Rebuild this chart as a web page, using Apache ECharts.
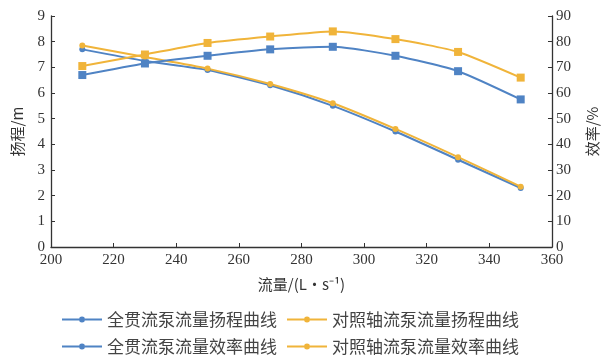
<!DOCTYPE html>
<html><head><meta charset="utf-8">
<script src="https://cdn.jsdelivr.net/npm/echarts@6/dist/echarts.min.js"></script>
<style>html,body{margin:0;padding:0;background:#fff}#c{width:608px;height:355px}</style>
</head><body><div id="c"></div>
<script>
const flow = [210, 230, 250, 270, 290, 310, 330, 350];
const headFull = [7.7, 7.25, 6.9, 6.3, 5.5, 4.5, 3.4, 2.3];
const headRef = [7.85, 7.4, 6.95, 6.35, 5.6, 4.6, 3.5, 2.35];
const effFull = [67, 71.5, 74.5, 77, 78, 74.5, 68.5, 57.5];
const effRef = [70.5, 75, 79.5, 82, 84, 81, 76, 66];
const names = ['全贯流泵流量扬程曲线', '对照轴流泵流量扬程曲线', '全贯流泵流量效率曲线', '对照轴流泵流量效率曲线'];
const blue = '#4f83c4', yellow = '#f0b43a';
const pairs = a => flow.map((x, i) => [x, a[i]]);
const serif = 'Liberation Serif';
const legendIconPath = 'path://M0,4h17v2h-17z M23,4h17v2h-17z M17,5a3,3 0 1,0 6,0a3,3 0 1,0 -6,0z';
const axisCommon = {
  axisLine: {show: true, lineStyle: {color: '#333', width: 1.3}},
  axisTick: {show: true, inside: true, length: 4, lineStyle: {color: '#333'}},
  axisLabel: {color: '#333', fontFamily: serif, fontSize: 15},
  splitLine: {show: false},
  nameTextStyle: {color: '#333', fontFamily: 'Noto Sans CJK SC', fontSize: 15}
};
const chart = echarts.init(document.getElementById('c'));
chart.setOption({
  animation: false,
  grid: {left: 51, right: 53, top: 16, bottom: 108},
  xAxis: Object.assign({}, axisCommon, {type: 'value', min: 200, max: 360, interval: 20,
    name: '流量/(L·s⁻¹)', nameLocation: 'middle', nameGap: 30,
    axisLabel: Object.assign({}, axisCommon.axisLabel, {margin: 6})}),
  yAxis: [
    Object.assign({}, axisCommon, {type: 'value', min: 0, max: 9, interval: 1, name: '扬程/m',
      nameLocation: 'middle', nameGap: 26, axisLabel: Object.assign({}, axisCommon.axisLabel, {margin: 6})}),
    Object.assign({}, axisCommon, {type: 'value', min: 0, max: 90, interval: 10, name: '效率/%',
      nameLocation: 'middle', nameGap: 33, nameRotate: 90, position: 'right',
      axisLabel: Object.assign({}, axisCommon.axisLabel, {margin: 4})})
  ],
  legend: {
    left: 62, top: 311, width: 500, padding: 0, itemWidth: 40, itemHeight: 6, itemGap: 10,
    data: names.map(n => ({name: n, icon: legendIconPath})),
    textStyle: {color: '#444', fontFamily: 'Noto Sans CJK SC', fontSize: 17, lineHeight: 17}
  },
  series: [
    {name: names[0], type: 'line', yAxisIndex: 0, data: pairs(headFull), smooth: 0.2,
      symbol: 'circle', symbolSize: 6, itemStyle: {color: blue}, lineStyle: {color: blue, width: 2}},
    {name: names[1], type: 'line', yAxisIndex: 0, data: pairs(headRef), smooth: 0.2,
      symbol: 'circle', symbolSize: 6, itemStyle: {color: yellow}, lineStyle: {color: yellow, width: 2}},
    {name: names[2], type: 'line', yAxisIndex: 1, data: pairs(effFull), smooth: 0.2,
      symbol: 'rect', symbolSize: 8, itemStyle: {color: blue}, lineStyle: {color: blue, width: 2}},
    {name: names[3], type: 'line', yAxisIndex: 1, data: pairs(effRef), smooth: 0.2,
      symbol: 'rect', symbolSize: 8, itemStyle: {color: yellow}, lineStyle: {color: yellow, width: 2}}
  ]
});
</script></body></html>
